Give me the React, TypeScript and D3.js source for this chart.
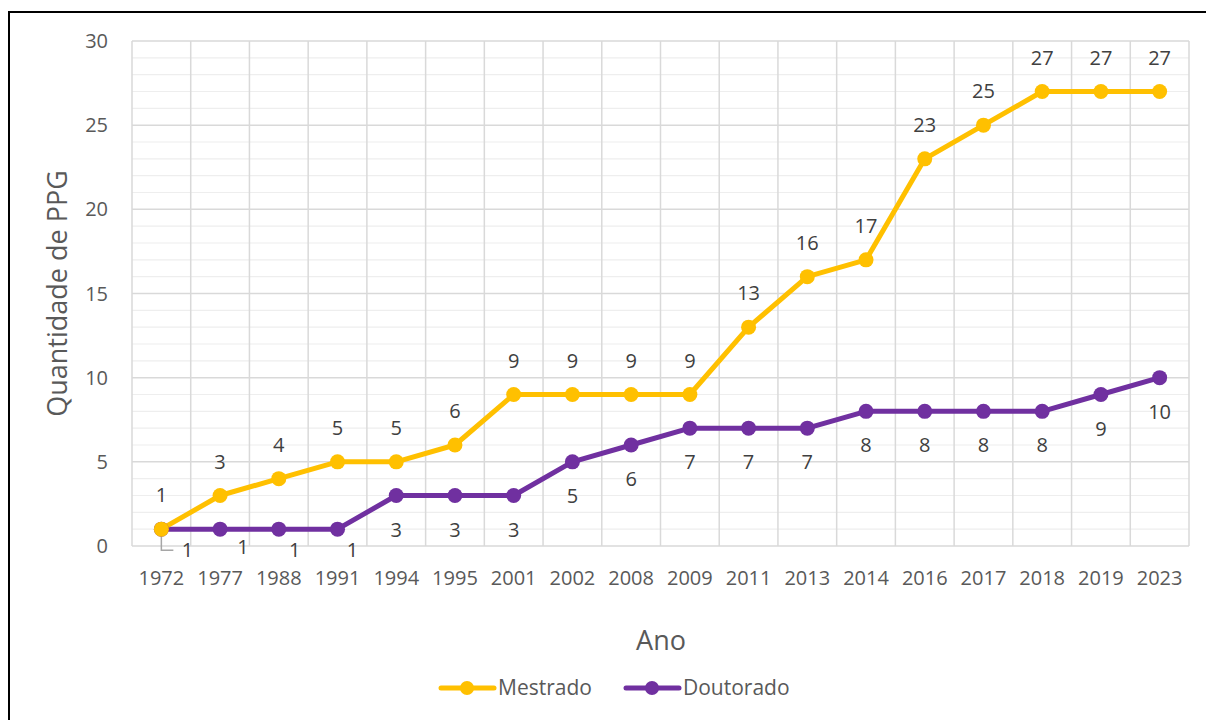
import React from "react";
import * as d3 from "d3";

const years = ["1972","1977","1988","1991","1994","1995","2001","2002","2008","2009","2011","2013","2014","2016","2017","2018","2019","2023"];
const mestrado = [1,3,4,5,5,6,9,9,9,9,13,16,17,23,25,27,27,27];
const doutorado = [1,1,1,1,3,3,3,5,6,7,7,7,8,8,8,8,9,10];
const yTicks = [0,5,10,15,20,25,30];
// label nudges for the crowded first Doutorado labels (dx, dy from point)
const doutLabelNudge: Record<number, [number, number]> = { 0: [26, 21], 1: [23, 18], 2: [16, 21], 3: [15, 21] };

const W = 1206, H = 720;
const L = 132, R = 1189, T = 41, B = 546;
const FONT = "'Open Sans', sans-serif";
const YELLOW = "#FFC000";
const PURPLE = "#7030A0";

export default function App() {
  const x = d3.scaleBand<string>().domain(years).range([L, R]);
  const y = d3.scaleLinear().domain([0, 30]).range([B, T]);
  const cx = (i: number) => (x(years[i]) as number) + x.bandwidth() / 2;
  const line = d3.line<number>().x((_, i) => cx(i)).y((d) => y(d));
  const minor = d3.range(0, 31).filter((v) => v % 5 !== 0);

  return (
    <svg width={W} height={H} style={{ position: "absolute", left: 0, top: 0, background: "#fff" }} fontFamily={FONT}>
      <rect x={9} y={12} width={W + 10} height={H + 10} fill="#fff" stroke="#000" strokeWidth={2} />
      {minor.map((v) => (
        <line key={"m" + v} x1={L} x2={R} y1={y(v)} y2={y(v)} stroke="#eeeeee" strokeWidth={1.2} />
      ))}
      {yTicks.map((v) => (
        <line key={"g" + v} x1={L} x2={R} y1={y(v)} y2={y(v)} stroke="#d9d9d9" strokeWidth={1.5} />
      ))}
      {years.map((yr) => (
        <line key={"v" + yr} x1={x(yr)} x2={x(yr)} y1={T} y2={B} stroke="#d9d9d9" strokeWidth={1.5} />
      ))}
      <line x1={R} x2={R} y1={T} y2={B} stroke="#d9d9d9" strokeWidth={1.5} />
      {yTicks.map((v) => (
        <text key={"t" + v} x={108} y={y(v)} dy="0.35em" textAnchor="end" fontSize={20} fill="#595959">{v}</text>
      ))}
      {years.map((yr, i) => (
        <text key={"xt" + yr} x={cx(i)} y={578} dy="0.35em" textAnchor="middle" fontSize={20} fill="#595959">{yr}</text>
      ))}
      <text transform={`translate(58,${(T + B) / 2}) rotate(-90)`} textAnchor="middle" dy="0.35em" fontSize={27} fill="#595959">Quantidade de PPG</text>
      <text x={661} y={641} textAnchor="middle" dy="0.35em" fontSize={27} fill="#595959">Ano</text>

      {/* leader line */}
      <polyline points={`${cx(0)},${y(1) + 5} ${cx(0)},${y(1) + 21} ${cx(0) + 12},${y(1) + 21}`} fill="none" stroke="#a6a6a6" strokeWidth={1.5} />

      <path d={line(doutorado) as string} fill="none" stroke={PURPLE} strokeWidth={5} strokeLinejoin="round" />
      <path d={line(mestrado) as string} fill="none" stroke={YELLOW} strokeWidth={5} strokeLinejoin="round" />
      {doutorado.map((v, i) => (
        <circle key={"dc" + i} cx={cx(i)} cy={y(v)} r={7.5} fill={PURPLE} />
      ))}
      {mestrado.map((v, i) => (
        <circle key={"mc" + i} cx={cx(i)} cy={y(v)} r={7.5} fill={YELLOW} />
      ))}
      {mestrado.map((v, i) => (
        <text key={"ml" + i} x={cx(i)} y={y(v) - 34} dy="0.35em" textAnchor="middle" fontSize={20} fill="#404040">{v}</text>
      ))}
      {doutorado.map((v, i) => {
        const [dx, dy] = doutLabelNudge[i] || [0, 34];
        return (
          <text key={"dl" + i} x={cx(i) + dx} y={y(v) + dy} dy="0.35em" textAnchor="middle" fontSize={20} fill="#404040">{v}</text>
        );
      })}

      {/* legend */}
      <line x1={441} x2={494} y1={688} y2={688} stroke={YELLOW} strokeWidth={5} strokeLinecap="round" />
      <circle cx={467} cy={688} r={7} fill={YELLOW} />
      <text x={498} y={688} dy="0.35em" fontSize={21} fill="#595959">Mestrado</text>
      <line x1={626} x2={679} y1={688} y2={688} stroke={PURPLE} strokeWidth={5} strokeLinecap="round" />
      <circle cx={652} cy={688} r={7} fill={PURPLE} />
      <text x={683} y={688} dy="0.35em" fontSize={21} fill="#595959">Doutorado</text>
    </svg>
  );
}
